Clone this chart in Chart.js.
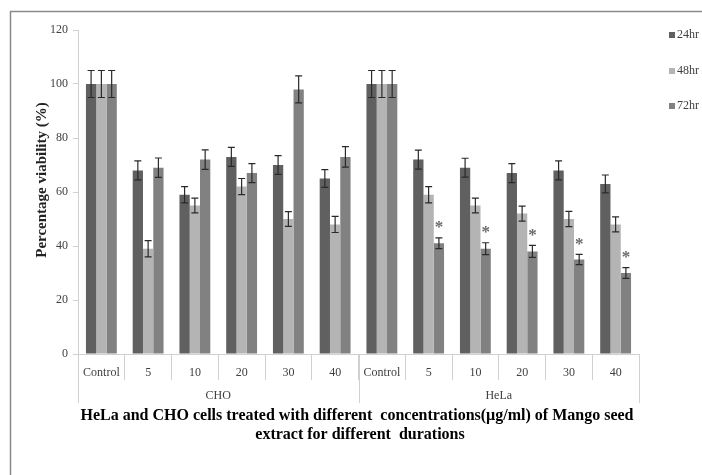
<!DOCTYPE html>
<html>
<head>
<meta charset="utf-8">
<script src="https://cdn.jsdelivr.net/npm/chart.js@4.4.1/dist/chart.umd.min.js"></script>
<style>
  html, body { margin: 0; padding: 0; background: #fff; }
  #wrap { width: 702px; height: 475px; }
</style>
</head>
<body>
<div id="wrap"><canvas id="viabilityChart"></canvas></div>
<script>
// Concentrations (µg/ml) per cell line, and the two cell lines
const categories = ['Control', '5', '10', '20', '30', '40', 'Control', '5', '10', '20', '30', '40'];
const cellLines = ['CHO', 'HeLa'];
const durations = ['24hr', '48hr', '72hr'];

// Mean viability (%) for each exposure time
const viability24 = [100, 68, 59, 73, 70, 65, 100, 72, 69, 67, 68, 63];
const viability48 = [100, 39, 55, 62, 50, 48, 100, 59, 55, 52, 50, 48];
const viability72 = [100, 69, 72, 67, 98, 73, 100, 41, 39, 38, 35, 30];

// Error bar half-lengths
const err24 = [5, 3.5, 3, 3.5, 3.5, 3.3, 5, 3.5, 3.5, 3.5, 3.5, 3.3];
const err48 = [5, 3, 2.7, 3, 2.7, 3, 5, 3, 2.7, 2.8, 2.8, 2.8];
const err72 = [5, 3.6, 3.6, 3.5, 5, 3.8, 5, 2, 2.2, 2.2, 1.9, 2];

// Significance marks on the 72hr bars
const marks72 = ['', '', '', '', '', '', '', '*', '*', '*', '*', '*'];

const yTicks = [0, 20, 40, 60, 80, 100, 120];

const serif = '"Liberation Serif", "Times New Roman", serif';
const tickColor = '#404040';
const axisGray = '#d0d0d0';

// Border around the whole figure
const framePlugin = {
    id: 'frame',
    beforeDraw(chart) {
        const ctx = chart.ctx;
        ctx.save();
        ctx.fillStyle = '#fff';
        ctx.fillRect(0, 0, chart.width, chart.height);
        ctx.strokeStyle = '#8a8a8a';
        ctx.lineWidth = 1.5;
        ctx.strokeRect(10.5, 11.5, chart.width + 20, chart.height + 20);
        ctx.restore();
    }
};

// Error bars and asterisks on top of each bar
const errorBarPlugin = {
    id: 'errorBars',
    afterDatasetsDraw(chart) {
        const ctx = chart.ctx;
        const y = chart.scales.y;
        ctx.save();
        chart.data.datasets.forEach((ds, i) => {
            const meta = chart.getDatasetMeta(i);
            meta.data.forEach((bar, j) => {
                const v = ds.data[j];
                const e = ds.errors[j];
                const top = y.getPixelForValue(v + e);
                const bot = y.getPixelForValue(v - e);
                ctx.strokeStyle = '#2a2a2a';
                ctx.lineWidth = 1.2;
                ctx.beginPath();
                ctx.moveTo(bar.x, top);
                ctx.lineTo(bar.x, bot);
                ctx.moveTo(bar.x - 3.5, top);
                ctx.lineTo(bar.x + 3.5, top);
                ctx.moveTo(bar.x - 3.5, bot);
                ctx.lineTo(bar.x + 3.5, bot);
                ctx.stroke();
                if (ds.marks && ds.marks[j]) {
                    ctx.fillStyle = '#6a6a6a';
                    ctx.font = 'bold 17px ' + serif;
                    ctx.textAlign = 'center';
                    ctx.textBaseline = 'middle';
                    ctx.fillText(ds.marks[j], bar.x, top - 10);
                }
            });
        });
        ctx.restore();
    }
};

// Grouped axis labels, y title, legend and caption
const decorPlugin = {
    id: 'decor',
    afterDraw(chart) {
        const ctx = chart.ctx;
        const x = chart.scales.x;
        const area = chart.chartArea;
        ctx.save();

        // group separators
        ctx.strokeStyle = axisGray;
        ctx.lineWidth = 1;
        [-0.5, 5.5, 11.5].forEach(v => {
            const px = Math.round(x.getPixelForValue(v)) + 0.5;
            ctx.beginPath();
            ctx.moveTo(px, area.bottom);
            ctx.lineTo(px, area.bottom + 49);
            ctx.stroke();
        });

        // cell line names
        ctx.fillStyle = tickColor;
        ctx.font = '12px ' + serif;
        ctx.textAlign = 'center';
        ctx.textBaseline = 'middle';
        cellLines.forEach((name, g) => {
            const l = x.getPixelForValue(g * 6 - 0.5);
            const r = x.getPixelForValue(g * 6 + 5.5);
            ctx.fillText(name, (l + r) / 2, area.bottom + 42);
        });

        // legend
        const legendY = [35, 71, 106];
        ctx.textAlign = 'left';
        chart.data.datasets.forEach((ds, i) => {
            ctx.fillStyle = ds.backgroundColor;
            ctx.fillRect(669, legendY[i] - 3, 6, 6);
            ctx.fillStyle = tickColor;
            ctx.fillText(ds.label, 677, legendY[i]);
        });

        // y axis title
        ctx.save();
        ctx.translate(42, 180);
        ctx.rotate(-Math.PI / 2);
        ctx.fillStyle = '#222';
        ctx.font = 'bold 15px ' + serif;
        ctx.textAlign = 'center';
        ctx.fillText('Percentage viability (%)', 0, 0);
        ctx.restore();

        // caption
        ctx.fillStyle = '#000';
        ctx.font = 'bold 16px ' + serif;
        ctx.textAlign = 'center';
        ctx.fillText('HeLa and CHO cells treated with different  concentrations(µg/ml) of Mango seed', 357, 416);
        ctx.fillText('extract for different  durations', 360, 435);
        ctx.restore();
    }
};

const ctx = document.getElementById('viabilityChart').getContext('2d');

new Chart(ctx, {
    type: 'bar',
    data: {
        labels: categories,
        datasets: [
            { label: durations[0], data: viability24, errors: err24, backgroundColor: '#606060' },
            { label: durations[1], data: viability48, errors: err48, backgroundColor: '#b4b4b4' },
            { label: durations[2], data: viability72, errors: err72, marks: marks72, backgroundColor: '#818181' }
        ]
    },
    options: {
        responsive: true,
        maintainAspectRatio: false,
        animation: false,
        layout: {
            padding: { top: 30, left: 10, right: 63, bottom: 0 }
        },
        datasets: {
            bar: {
                categoryPercentage: 0.66,
                barPercentage: 1.0
            }
        },
        plugins: {
            legend: { display: false },
            tooltip: { enabled: false }
        },
        scales: {
            x: {
                offset: true,
                border: { color: axisGray },
                grid: {
                    offset: true,
                    drawOnChartArea: false,
                    tickLength: 26,
                    color: axisGray
                },
                ticks: {
                    padding: -14,
                    color: tickColor,
                    font: { family: serif, size: 12 },
                    maxRotation: 0,
                    autoSkip: false
                },
                afterFit(scale) {
                    scale.height = 121;
                }
            },
            y: {
                min: 0,
                max: 120,
                border: { color: axisGray },
                grid: {
                    drawOnChartArea: false,
                    tickLength: 5,
                    color: axisGray
                },
                afterBuildTicks(scale) {
                    scale.ticks = yTicks.map(v => ({ value: v }));
                },
                ticks: {
                    padding: 5,
                    color: tickColor,
                    font: { family: serif, size: 12 }
                },
                afterFit(scale) {
                    scale.width = 68;
                }
            }
        }
    },
    plugins: [framePlugin, errorBarPlugin, decorPlugin]
});
</script>
</body>
</html>
